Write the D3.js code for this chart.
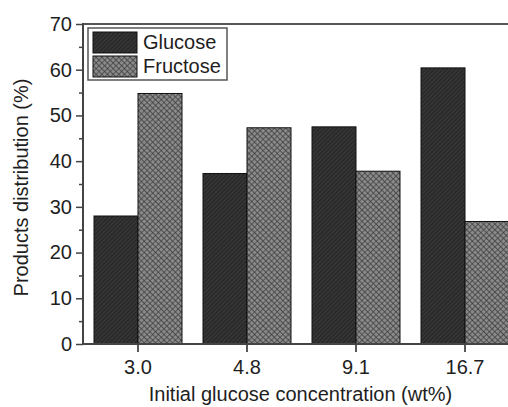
<!DOCTYPE html>
<html><head><meta charset="utf-8">
<script src="https://cdn.jsdelivr.net/npm/d3@7"></script>
<style>
html,body{margin:0;padding:0;background:#fff;}
svg{display:block;}
text{font-family:"Liberation Sans",Arial,Helvetica,sans-serif;fill:#1e1e1e;}
</style></head>
<body>
<svg id="chart" width="508" height="407"></svg>
<script>
const categories = ["3.0", "4.8", "9.1", "16.7"];
const seriesNames = ["Glucose", "Fructose"];
const glucoseValues = [28.0, 37.3, 47.5, 60.4];
const fructoseValues = [54.8, 47.3, 37.8, 26.8];
const yTicks = [0, 10, 20, 30, 40, 50, 60, 70];
const yMinorTicks = [5, 15, 25, 35, 45, 55, 65];
const xTitle = "Initial glucose concentration (wt%)";
const yTitle = "Products distribution (%)";

(function(){
const svg = d3.select("#chart");
const W = 508;
const mLeft = 83, mTop = 24, mBottom = 344, rightEnd = 519.5;
const axisColor = "#444";

const defs = svg.append("defs");
// Glucose: dark with fine diagonal hatch
const pg = defs.append("pattern").attr("id","pGlu").attr("patternUnits","userSpaceOnUse")
  .attr("width",3).attr("height",3).attr("patternTransform","rotate(45)");
pg.append("rect").attr("width",3).attr("height",3).attr("fill","#2a2a2a");
pg.append("line").attr("x1",0).attr("y1",0).attr("x2",0).attr("y2",3)
  .attr("stroke","#4a4a4a").attr("stroke-width",1);
// Fructose: gray crosshatch (diamonds)
const pf = defs.append("pattern").attr("id","pFru").attr("patternUnits","userSpaceOnUse")
  .attr("width",4).attr("height",4).attr("patternTransform","rotate(45)");
pf.append("rect").attr("width",4).attr("height",4).attr("fill","#8a8a8a");
pf.append("path").attr("d","M0,0H4M0,0V4").attr("stroke","#3a3a3a").attr("stroke-width",1.3).attr("fill","none");

const fills = ["url(#pGlu)", "url(#pFru)"];

const x = d3.scaleBand().domain(categories).range([mLeft + 0.5, rightEnd])
  .paddingInner(21/109).paddingOuter(10.5/109);
const xs = d3.scaleBand().domain(seriesNames).range([0, x.bandwidth()]).padding(0);
const y = d3.scaleLinear().domain([0, 70]).range([mBottom, mTop]);

const data = categories.map((c, i) => ({cat: c, vals: [glucoseValues[i], fructoseValues[i]]}));

const g = svg.append("g").attr("class","bars");
data.forEach(d => {
  d.vals.forEach((v, j) => {
    g.append("rect")
      .attr("x", x(d.cat) + xs(seriesNames[j]))
      .attr("y", y(v))
      .attr("width", xs.bandwidth())
      .attr("height", y(0) - y(v))
      .attr("fill", fills[j])
      .attr("stroke", "#111")
      .attr("stroke-width", 1);
  });
});

// Axes
const yAxis = d3.axisLeft(y).tickValues(yTicks).tickSize(7).tickPadding(4).tickFormat(d3.format("d"));
const yAx = svg.append("g").attr("transform", `translate(${mLeft},0)`).call(yAxis);
yAx.select(".domain").remove();
yAx.selectAll("line").attr("stroke", axisColor).attr("stroke-width", 1.5);
yAx.selectAll("text").attr("font-size", 20).style("font-family","Liberation Sans, Arial, sans-serif").attr("fill","#1e1e1e");

const yMinor = d3.axisLeft(y).tickValues(yMinorTicks).tickSize(4).tickFormat("");
const yMi = svg.append("g").attr("transform", `translate(${mLeft},0)`).call(yMinor);
yMi.select(".domain").remove();
yMi.selectAll("line").attr("stroke", axisColor).attr("stroke-width", 1.5);

const xAxis = d3.axisBottom(x).tickSize(8).tickPadding(8);
const xAx = svg.append("g").attr("transform", `translate(0,${mBottom})`).call(xAxis);
xAx.select(".domain").remove();
xAx.selectAll("line").attr("stroke", "#222").attr("stroke-width", 1.5);
xAx.selectAll("text").attr("font-size", 20).style("font-family","Liberation Sans, Arial, sans-serif").attr("fill","#1e1e1e");

// frame lines
svg.append("line").attr("x1", mLeft).attr("x2", W).attr("y1", mBottom).attr("y2", mBottom)
  .attr("stroke", axisColor).attr("stroke-width", 2);
svg.append("line").attr("x1", mLeft).attr("x2", W).attr("y1", mTop).attr("y2", mTop)
  .attr("stroke", "#555").attr("stroke-width", 2);
svg.append("line").attr("x1", mLeft).attr("x2", mLeft).attr("y1", mTop - 1).attr("y2", mBottom + 1)
  .attr("stroke", axisColor).attr("stroke-width", 2);

// titles
svg.append("text").attr("x", 300.5).attr("y", 401).attr("text-anchor","middle")
  .attr("font-size", 20).text(xTitle);
svg.append("text").attr("transform", "translate(28,187.5) rotate(-90)").attr("text-anchor","middle")
  .attr("font-size", 20).text(yTitle);

// legend
const lg = svg.append("g");
lg.append("rect").attr("x", 88).attr("y", 28).attr("width", 139).attr("height", 52)
  .attr("fill", "#fff").attr("stroke", "#555").attr("stroke-width", 1.5);
seriesNames.forEach((s, j) => {
  const yy = 32 + j * 24;
  lg.append("rect").attr("x", 93).attr("y", yy).attr("width", 44).attr("height", 21)
    .attr("fill", fills[j]).attr("stroke", "#111").attr("stroke-width", 1);
  lg.append("text").attr("x", 143).attr("y", yy + 17).attr("font-size", 20).text(s);
});
})();
</script>
</body></html>
